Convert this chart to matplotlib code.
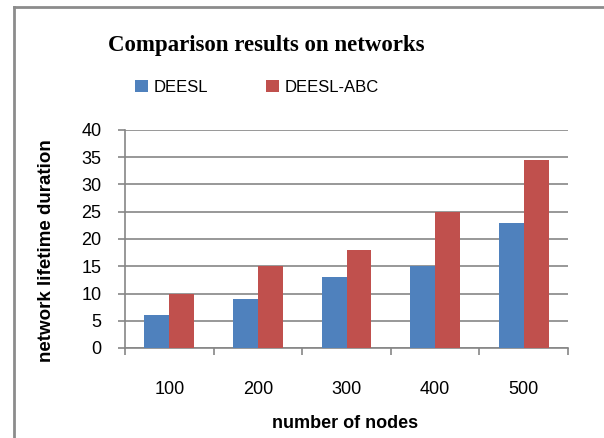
import matplotlib.pyplot as plt
import matplotlib.lines as mlines
import numpy as np

# Values
nodes = ['100', '200', '300', '400', '500']
deesl = [6, 9, 13, 15, 23]
deesl_abc = [10, 15, 18, 25, 34.5]

blue = '#4f81bd'
red = '#c0504d'
grid_gray = '#868686'

plt.rcParams['font.family'] = ['Liberation Sans', 'DejaVu Sans']

fig = plt.figure(figsize=(6.04, 4.38), dpi=100)
W, H = 604, 438

# outer chart frame: only left and top edges are visible
fig.lines.append(mlines.Line2D([14 / W, 14 / W], [0, 1 - 7 / H], transform=fig.transFigure,
                               color='#8c8c8c', linewidth=2))
fig.lines.append(mlines.Line2D([14 / W, 1], [1 - 7 / H, 1 - 7 / H], transform=fig.transFigure,
                               color='#8c8c8c', linewidth=2))

ax = fig.add_axes([125 / W, 1 - 348 / H, (568 - 125) / W, (348 - 130) / H])

x = np.arange(len(nodes))
width = 0.28
ax.bar(x - width / 2, deesl, width, color=blue, label='DEESL', zorder=3)
ax.bar(x + width / 2, deesl_abc, width, color=red, label='DEESL-ABC', zorder=3)

ax.set_xlim(-0.5, len(nodes) - 0.5)
ax.set_ylim(0, 40)
ax.set_yticks(range(0, 41, 5))
ax.set_yticklabels([str(v) for v in range(0, 41, 5)], fontsize=13)
ax.grid(True, axis='y', color=grid_gray, linewidth=1.2, zorder=0)

# category labels centred, ticks on the boundaries
ax.set_xticks(np.arange(-0.5, len(nodes), 1.0))
ax.set_xticklabels([])
ax.set_xticks(x, minor=True)
ax.set_xticklabels(nodes, minor=True, fontsize=13)
ax.tick_params(axis='x', which='minor', length=0, pad=24)
ax.tick_params(axis='x', which='major', length=5, color=grid_gray, width=1.2, direction='out')
ax.tick_params(axis='y', length=5, color=grid_gray, width=1.2, pad=12)

for side in ['top', 'right']:
    ax.spines[side].set_visible(False)
for side in ['left', 'bottom']:
    ax.spines[side].set_color(grid_gray)
    ax.spines[side].set_linewidth(1.2)

ax.set_xlabel('number of nodes', fontsize=13, fontweight='bold')
ax.xaxis.set_label_coords((345 - 125) / 443, -(424 - 348) / 218)
ax.xaxis.label.set_va('center')
ax.set_ylabel('network lifetime duration', fontsize=13.5, fontweight='bold')
ax.yaxis.set_label_coords(-(125 - 47) / 443, (348 - 251) / 218)
ax.yaxis.label.set_va('center')

fig.text(266 / W, 1 - 46 / H, 'Comparison results on networks', ha='center', va='center',
         fontsize=16.5, fontweight='bold', family=['Liberation Serif', 'DejaVu Serif'])

fig.legend(loc='center', bbox_to_anchor=(257 / W, 1 - 87 / H), ncol=2, frameon=False,
           fontsize=12, handlelength=0.75, handleheight=0.75, handletextpad=0.35,
           columnspacing=3.5)

plt.savefig('out.png', dpi=100)
